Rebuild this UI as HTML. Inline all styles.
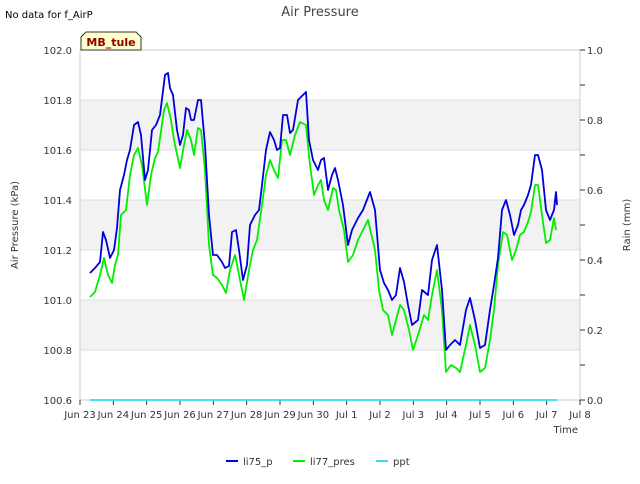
<!DOCTYPE html>
<html><head><meta charset="utf-8"><style>
body{margin:0;background:#fff;font-family:"DejaVu Sans","Liberation Sans",sans-serif;}
text{font-family:"DejaVu Sans","Liberation Sans",sans-serif;}
</style></head><body>
<svg id="c" width="640" height="480" xmlns="http://www.w3.org/2000/svg"></svg>
<script>
const blueDays=[0.30,0.45,0.60,0.69,0.78,0.90,1.02,1.11,1.20,1.32,1.41,1.50,1.62,1.74,1.83,1.95,2.04,2.16,2.28,2.40,2.55,2.64,2.70,2.79,2.91,3.00,3.09,3.18,3.27,3.33,3.42,3.54,3.63,3.75,3.87,3.99,4.11,4.26,4.35,4.47,4.56,4.68,4.77,4.89,5.01,5.10,5.25,5.37,5.46,5.58,5.70,5.82,5.91,6.00,6.09,6.21,6.30,6.39,6.54,6.69,6.78,6.87,6.99,7.14,7.23,7.32,7.44,7.56,7.65,7.74,7.89,8.04,8.16,8.34,8.49,8.70,8.85,9.00,9.12,9.24,9.36,9.48,9.60,9.72,9.84,9.96,10.14,10.26,10.44,10.56,10.71,10.86,10.98,11.10,11.25,11.40,11.58,11.70,11.85,12.00,12.15,12.30,12.42,12.54,12.66,12.78,12.90,13.02,13.14,13.23,13.32,13.44,13.53,13.65,13.74,13.86,13.98,14.10,14.22,14.28,14.31];
const blueVals=[101.108,101.128,101.152,101.272,101.24,101.168,101.2,101.288,101.44,101.5,101.56,101.6,101.7,101.712,101.66,101.48,101.52,101.68,101.7,101.74,101.9,101.908,101.848,101.82,101.68,101.62,101.66,101.768,101.76,101.72,101.72,101.8,101.8,101.62,101.34,101.18,101.18,101.152,101.128,101.136,101.272,101.28,101.2,101.08,101.14,101.3,101.34,101.36,101.46,101.6,101.672,101.64,101.6,101.608,101.74,101.74,101.668,101.68,101.8,101.82,101.832,101.64,101.56,101.52,101.56,101.568,101.44,101.5,101.528,101.48,101.38,101.22,101.28,101.328,101.36,101.432,101.36,101.12,101.068,101.04,101.0,101.02,101.128,101.072,100.98,100.9,100.92,101.04,101.02,101.16,101.22,101.04,100.8,100.82,100.84,100.82,100.96,101.008,100.92,100.808,100.82,100.96,101.06,101.168,101.36,101.4,101.34,101.26,101.3,101.36,101.38,101.42,101.46,101.58,101.58,101.52,101.36,101.32,101.36,101.432,101.38];
const greenDays=[0.30,0.45,0.60,0.72,0.84,0.96,1.05,1.14,1.23,1.38,1.50,1.62,1.74,1.86,2.01,2.13,2.25,2.34,2.52,2.61,2.73,2.82,3.00,3.12,3.21,3.33,3.42,3.54,3.63,3.75,3.87,3.99,4.11,4.26,4.38,4.50,4.65,4.77,4.92,5.07,5.19,5.31,5.46,5.58,5.70,5.82,5.94,6.06,6.18,6.30,6.45,6.60,6.78,6.90,7.02,7.14,7.23,7.32,7.44,7.59,7.68,7.77,7.92,8.04,8.19,8.34,8.49,8.64,8.85,8.97,9.09,9.24,9.36,9.48,9.60,9.72,9.87,9.99,10.14,10.32,10.44,10.56,10.71,10.86,10.98,11.13,11.28,11.40,11.58,11.70,11.85,12.00,12.15,12.30,12.42,12.54,12.69,12.81,12.96,13.08,13.20,13.32,13.44,13.53,13.65,13.74,13.86,13.98,14.10,14.22,14.28];
const greenVals=[101.012,101.032,101.1,101.168,101.1,101.068,101.14,101.18,101.34,101.36,101.5,101.58,101.608,101.54,101.38,101.5,101.568,101.592,101.76,101.788,101.72,101.64,101.528,101.62,101.68,101.64,101.58,101.688,101.68,101.52,101.22,101.1,101.088,101.06,101.028,101.12,101.18,101.1,101.0,101.12,101.2,101.24,101.38,101.5,101.56,101.52,101.488,101.64,101.64,101.58,101.66,101.712,101.7,101.54,101.42,101.46,101.48,101.4,101.36,101.448,101.44,101.36,101.28,101.152,101.18,101.24,101.28,101.32,101.2,101.04,100.96,100.94,100.86,100.92,100.98,100.96,100.88,100.8,100.86,100.94,100.92,101.02,101.12,100.96,100.712,100.74,100.728,100.712,100.82,100.9,100.82,100.712,100.728,100.84,100.96,101.14,101.272,101.26,101.16,101.2,101.26,101.272,101.312,101.352,101.46,101.46,101.34,101.228,101.24,101.328,101.28];
const pptDays=[0.30,14.31];
const pptVals=[0,0];
const xTickLabels=["Jun 23","Jun 24","Jun 25","Jun 26","Jun 27","Jun 28","Jun 29","Jun 30","Jul 1","Jul 2","Jul 3","Jul 4","Jul 5","Jul 6","Jul 7","Jul 8"];
const yTicks=[100.6,100.8,101.0,101.2,101.4,101.6,101.8,102.0];
const y2Ticks=[0,0.2,0.4,0.6,0.8,1.0];

const svg=document.getElementById('c');
const NS='http://www.w3.org/2000/svg';
const L=80,R=580,T=50,B=400;
const X=d=>L+d*(R-L)/15;
const Y=v=>T+(102.0-v)*(B-T)/1.4;
const Y2=v=>B-v*(B-T);
function mk(tag,attrs,txt){const e=document.createElementNS(NS,tag);for(const k in attrs)e.setAttribute(k,attrs[k]);if(txt!==undefined)e.textContent=txt;svg.appendChild(e);return e;}

// bands
for(let i=0;i<yTicks.length-1;i++){
  if(i%2===1){const r=mk('rect',{x:L,y:Y(yTicks[i+1]),width:R-L,height:Y(yTicks[i])-Y(yTicks[i+1]),fill:'#f2f2f2'});
  }
}
yTicks.forEach(v=>{const l=mk('line',{x1:L,x2:R,y1:Y(v),y2:Y(v),stroke:'#dddddd','stroke-width':1});
});
const fr=mk('rect',{x:L,y:T,width:R-L,height:B-T,fill:'none',stroke:'#cccccc'});


// y ticks left
yTicks.forEach(v=>{const t=mk('text',{x:72,y:Y(v)+4,'text-anchor':'end','font-size':10,fill:'#333'},v.toFixed(1));
});
// right ticks
for(let i=0;i<=10;i++){const v=i/10;const l=mk('line',{x1:R,x2:R+5,y1:Y2(v),y2:Y2(v),stroke:'#333'});
}
y2Ticks.forEach(v=>{const t=mk('text',{x:587,y:Y2(v)+4,'font-size':10,fill:'#333'},v.toFixed(1));
});
// x ticks
xTickLabels.forEach((s,i)=>{const l=mk('line',{x1:X(i),x2:X(i),y1:B,y2:B+5,stroke:'#333'});

const t=mk('text',{x:X(i),y:B+18,'text-anchor':'middle','font-size':10,fill:'#333'},s);
});

function line(days,vals,yf,color,name){
  const n=Math.min(days.length,vals.length);let d='';
  for(let i=0;i<n;i++)d+=(i?'L':'M')+X(days[i]).toFixed(1)+','+yf(vals[i]).toFixed(1);
  const p=mk('path',{d:d,fill:'none',stroke:color,'stroke-width':1.8,'stroke-linejoin':'round'});
  
}
line(greenDays,greenVals,Y,'#00ee00','li77-pres-line');
line(blueDays,blueVals,Y,'#0000dd','li75-p-line');
line(pptDays,pptVals,Y2,'#33ddee','ppt-line');

// titles
let t;
t=mk('text',{x:320,y:16,'text-anchor':'middle','font-size':13,fill:'#444'},'Air Pressure');
t=mk('text',{x:5,y:18,'font-size':10,fill:'#000'},'No data for f_AirP');
t=mk('text',{x:18,y:225,'text-anchor':'middle','font-size':10,fill:'#333',transform:'rotate(-90 18 225)'},'Air Pressure (kPa)');
t=mk('text',{x:630,y:225,'text-anchor':'middle','font-size':10,fill:'#333',transform:'rotate(-90 630 225)'},'Rain (mm)');
t=mk('text',{x:578,y:433,'text-anchor':'end','font-size':10,fill:'#333'},'Time');
// MB_tule box
const bx=mk('path',{d:'M81,50 L81,37 L86,32 L136,32 L141,37 L141,50 Z',fill:'#ffffcc',stroke:'#333'});
t=mk('text',{x:111,y:46,'text-anchor':'middle','font-size':11,'font-weight':'bold',fill:'#8b0000'},'MB_tule');
// legend
const leg=[['li75_p','#0000dd',226],['li77_pres','#00ee00',293],['ppt','#33ddee',376]];
leg.forEach(([s,c,x])=>{const l=mk('line',{x1:x,x2:x+12,y1:461,y2:461,stroke:c,'stroke-width':2});

const tt=mk('text',{x:x+17,y:465,'font-size':10,fill:'#333'},s);});
</script>
</body></html>
